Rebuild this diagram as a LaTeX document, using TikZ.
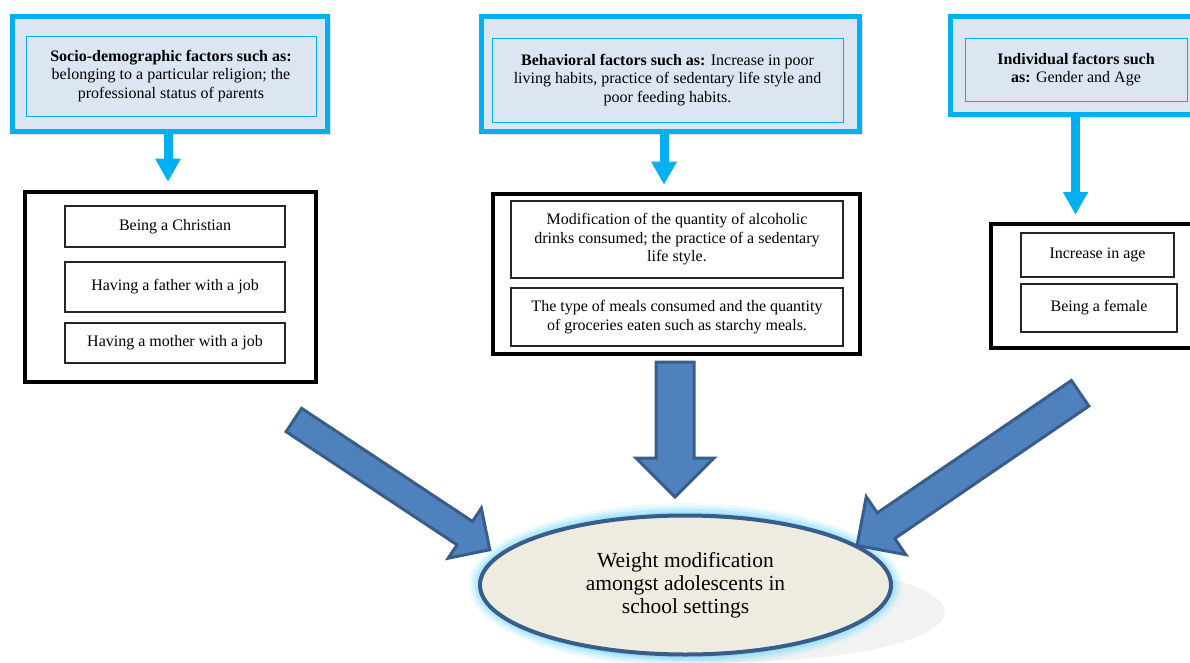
\documentclass[tikz,border=0pt]{standalone}
\usepackage{fontspec}
\setmainfont{Liberation Serif}
\usetikzlibrary{shapes.geometric,shapes.arrows,arrows.meta,shadows}
\definecolor{skyline}{RGB}{0,176,240}
\definecolor{boxfill}{RGB}{220,230,242}
\definecolor{arrowfill}{RGB}{79,129,189}
\definecolor{arrowedge}{RGB}{56,93,138}
\definecolor{ovalfill}{RGB}{238,236,225}
\definecolor{glow}{RGB}{120,215,245}
\begin{document}
\begin{tikzpicture}[x=1pt,y=-1pt]
        \tikzstyle{factor}=[rectangle, draw=skyline, line width=5pt, fill=boxfill, drop shadow={opacity=0.25,shadow xshift=3pt,shadow yshift=-4pt}]
        \tikzstyle{factortext}=[rectangle, draw=skyline, line width=0.8pt, align=center, font=\fontsize{16}{18.5}\selectfont]
        \tikzstyle{group}=[rectangle, draw=black, line width=4.5pt, fill=white]
        \tikzstyle{item}=[rectangle, draw=black!85, line width=1.1pt, align=center, font=\fontsize{16}{18.5}\selectfont]
        \tikzstyle{down}=[draw=skyline, line width=9pt, -{Triangle[width=24pt,length=23pt]}]
        \tikzstyle{fat}=[single arrow, draw=arrowedge, fill=arrowfill, line width=3pt, inner xsep=0pt, single arrow tip angle=90]
        \useasboundingbox (0,0) rectangle (1190,663);
        % factor boxes
        \node[factor, minimum width=315pt, minimum height=115pt] (topL) at (170,74) {};
        \node[factortext, minimum width=290pt, minimum height=80pt] (topLtxt) at (171,76)
          {\textbf{Socio-demographic factors such as:}\\ belonging to a particular religion; the\\ professional status of parents};
        \node[factor, minimum width=378pt, minimum height=115pt] (topM) at (670.5,74) {};
        \node[factortext, minimum width=351pt, minimum height=84pt] (topMtxt) at (667.5,80)
          {\textbf{Behavioral factors such as:} Increase in poor\\ living habits, practice of sedentary life style and\\ poor feeding habits.};
        \node[factor, minimum width=251pt, minimum height=98pt] (topR) at (1075.5,65.5) {};
        \node[factortext, minimum width=222pt, minimum height=63pt] (topRtxt) at (1076,69.5)
          {\textbf{Individual factors such}\\ \textbf{as:} Gender and Age};
        % groups of items
        \node[group, minimum width=291pt, minimum height=190pt] (boxL) at (170.5,287) {};
        \node[item, minimum width=220pt, minimum height=41pt] (christian) at (175,226.5) {Being a Christian};
        \node[item, minimum width=220pt, minimum height=50pt] (father) at (175,287) {Having a father with a job};
        \node[item, minimum width=220pt, minimum height=40pt] (mother) at (175,343) {Having a mother with a job};
        \node[group, minimum width=367pt, minimum height=160pt] (boxM) at (676.5,274) {};
        \node[item, minimum width=332pt, minimum height=77pt] (alcohol) at (677,239.5)
          {Modification of the quantity of alcoholic\\ drinks consumed; the practice of a sedentary\\ life style.};
        \node[item, minimum width=332pt, minimum height=58pt] (meals) at (677,317)
          {The type of meals consumed and the quantity\\ of groceries eaten such as starchy meals.};
        \node[group, minimum width=207pt, minimum height=124pt] (boxR) at (1094.5,286) {};
        \node[item, minimum width=153pt, minimum height=44pt] (age) at (1097.5,255) {Increase in age};
        \node[item, minimum width=156pt, minimum height=48pt] (female) at (1099,308) {Being a female};
        % small arrows
        \draw[down, shorten >=8pt] ([xshift=-2pt]topL.south) -- ([xshift=-2pt]topL.south |- boxL.north);
        \draw[down, shorten >=7pt] ([xshift=-6.5pt]topM.south) -- ([xshift=-6.5pt]topM.south |- boxM.north);
        \draw[down, shorten >=7pt] (topR.south) -- (topR.south |- boxR.north);
        % outcome
        \fill[black, opacity=0.05] (730,612) ellipse [x radius=215, y radius=50];
        \foreach \g/\o in {12/0.12, 9/0.2, 6/0.3, 3/0.45}
          \fill[glow, opacity=\o] (685.5,585) ellipse [x radius=205+\g, y radius=70+\g];
        \node[ellipse, draw=arrowedge, line width=4pt, fill=ovalfill, minimum width=411pt, minimum height=139pt,
          align=center, font=\fontsize{21.5}{23}\selectfont] (oval) at (685.5,585)
          {Weight modification\\ amongst adolescents in\\ school settings};
        % big arrows
        \node[fat, minimum height=235pt, minimum width=57pt, inner ysep=12.5pt, single arrow head extend=16pt, rotate=-33.5] (arrL) at (386,481) {};
        \node[fat, minimum height=135pt, minimum width=75pt, inner ysep=17.5pt, single arrow head extend=20pt, rotate=-90] (arrM) at (675,420) {};
        \node[fat, minimum height=270pt, minimum width=67pt, inner ysep=14pt, single arrow head extend=19.5pt, rotate=-145.7] (arrR) at (975,465) {};
\end{tikzpicture}
\end{document}
